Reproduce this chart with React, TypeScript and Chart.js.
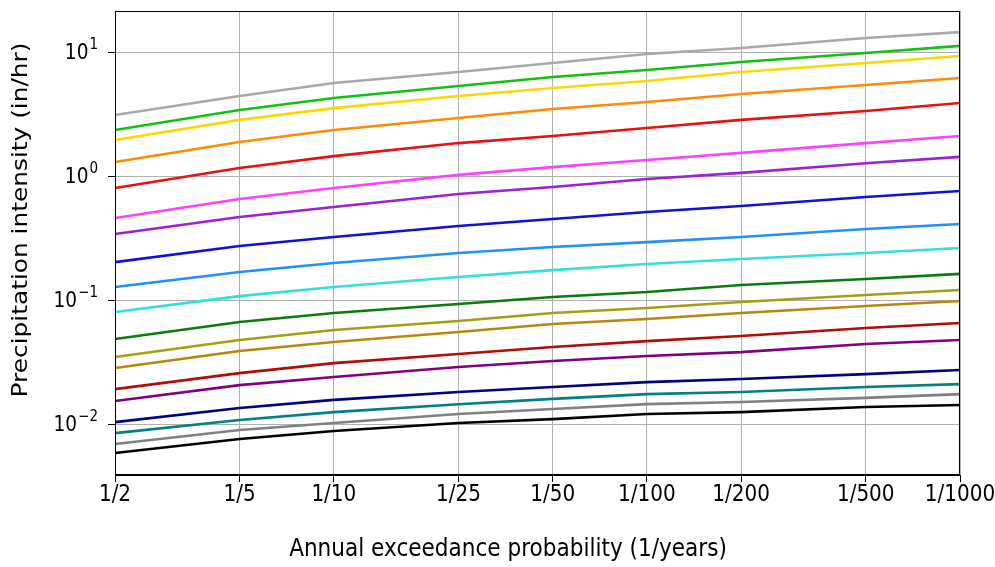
import React, { useEffect, useRef } from "react";
import { Chart, registerables } from "chart.js";

Chart.register(...registerables);

const returnPeriods = [2, 5, 10, 25, 50, 100, 200, 500, 1000];
const xTickValues = [2, 5, 10, 25, 50, 100, 200, 500, 1000];
const xTickLabels = ["1/2", "1/5", "1/10", "1/25", "1/50", "1/100", "1/200", "1/500", "1/1000"];
const yTickValues = [0.01, 0.1, 1, 10];
const yTickExponents = ["\u22122", "\u22121", "0", "1"];
const xTitle = "Annual exceedance probability (1/years)";
const yTitle = "Precipitation intensity (in/hr)";

const s01 = [3.13, 4.46, 5.68, 6.97, 8.23, 9.72, 10.87, 13.1, 14.6];
const s02 = [2.37, 3.44, 4.3, 5.37, 6.34, 7.23, 8.38, 9.91, 11.3];
const s03 = [1.97, 2.86, 3.56, 4.46, 5.17, 5.89, 6.97, 8.23, 9.37];
const s04 = [1.31, 1.9, 2.37, 2.96, 3.5, 3.99, 4.62, 5.47, 6.22];
const s05 = [0.807, 1.17, 1.46, 1.86, 2.12, 2.46, 2.86, 3.37, 3.92];
const s06 = [0.463, 0.659, 0.807, 1.03, 1.19, 1.36, 1.55, 1.86, 2.12];
const s07 = [0.344, 0.471, 0.568, 0.723, 0.822, 0.955, 1.07, 1.28, 1.44];
const s08 = [0.204, 0.275, 0.325, 0.399, 0.454, 0.517, 0.578, 0.684, 0.764];
const s09 = [0.1285, 0.17, 0.201, 0.242, 0.27, 0.296, 0.325, 0.377, 0.414];
const s10 = [0.0807, 0.1086, 0.1285, 0.155, 0.176, 0.197, 0.216, 0.242, 0.265];
const s11 = [0.049, 0.0671, 0.0793, 0.0937, 0.1067, 0.117, 0.1335, 0.149, 0.164];
const s12 = [0.035, 0.048, 0.0578, 0.0684, 0.0793, 0.0871, 0.0973, 0.1107, 0.1216];
const s13 = [0.0286, 0.0392, 0.0463, 0.0557, 0.0646, 0.0709, 0.0793, 0.0904, 0.0991];
const s14 = [0.0193, 0.026, 0.0313, 0.0371, 0.0422, 0.0471, 0.0518, 0.06, 0.0659];
const s15 = [0.0155, 0.0208, 0.0242, 0.0291, 0.0325, 0.0357, 0.0384, 0.0446, 0.048];
const s16 = [0.01047, 0.01358, 0.0158, 0.0183, 0.0201, 0.022, 0.0233, 0.0255, 0.0275];
const s17 = [0.00853, 0.01087, 0.0126, 0.0146, 0.0161, 0.0176, 0.0183, 0.0201, 0.0212];
const s18 = [0.00697, 0.00904, 0.01028, 0.01216, 0.01334, 0.0146, 0.0152, 0.0164, 0.0176];
const s19 = [0.00589, 0.00764, 0.00888, 0.01028, 0.01107, 0.01216, 0.0126, 0.01384, 0.01436];

const seriesList = [s01, s02, s03, s04, s05, s06, s07, s08, s09, s10, s11, s12, s13, s14, s15, s16, s17, s18, s19];
const seriesColors = [
  "#a9a9a9", "#12c012", "#ffd700", "#ff8c00", "#e81010",
  "#ff40ff", "#9b20d9", "#1010dd", "#1e90ff", "#30e0dc",
  "#0a7a0a", "#a0a010", "#b8860b", "#b40a0a", "#800080",
  "#000080", "#008080", "#808080", "#000000",
];

const FONT = "'DejaVu Sans', sans-serif";
const STRETCH = 1.15;

function drawText(ctx: CanvasRenderingContext2D, text: string, x: number, y: number, size: number, align: CanvasTextAlign, rotate = false) {
  ctx.save();
  ctx.translate(x, y);
  if (rotate) {
    ctx.rotate(-Math.PI / 2);
    ctx.scale(STRETCH, 1);
  } else {
    ctx.scale(1, STRETCH);
  }
  ctx.font = `${size}px ${FONT}`;
  ctx.textAlign = align;
  ctx.textBaseline = "middle";
  ctx.fillStyle = "#000";
  ctx.fillText(text, 0, 0);
  ctx.restore();
}

const textPlugin = {
  id: "textPlugin",
  afterDraw(chart: any) {
    const { ctx, chartArea } = chart;
    ctx.save();
    ctx.strokeStyle = "#000";
    ctx.lineWidth = 1;
    ctx.strokeRect(chartArea.left + 0.5, chartArea.top + 0.5, chartArea.right - chartArea.left - 1, chartArea.bottom - chartArea.top - 1);
    ctx.restore();

    const xScale = chart.scales.x;
    const yScale = chart.scales.y;
    // x tick labels
    xTickValues.forEach((v, i) => {
      drawText(ctx, xTickLabels[i], xScale.getPixelForValue(v), chartArea.bottom + 20, 20, "center");
    });
    // y tick labels 10^n
    const rightEdge = chartArea.left - 17;
    yTickValues.forEach((v, i) => {
      const py = yScale.getPixelForValue(v);
      ctx.save();
      ctx.font = `13.5px ${FONT}`;
      const ew = ctx.measureText(yTickExponents[i]).width;
      ctx.restore();
      drawText(ctx, yTickExponents[i], rightEdge - ew, py - 8, 13.5, "left");
      drawText(ctx, "10", rightEdge - ew - 1, py + 1, 18.5, "right");
    });
    // axis titles
    drawText(ctx, xTitle, 508, 550, 21.6, "center");
    drawText(ctx, yTitle, 21, 220, 21.6, "center", true);
  },
};

export default function App() {
  const ref = useRef<HTMLCanvasElement>(null);
  useEffect(() => {
    if (!ref.current) return;
    const chart = new Chart(ref.current, {
      type: "line",
      data: {
        datasets: seriesList.map((s, i) => ({
          data: s.map((v, j) => ({ x: returnPeriods[j], y: v })),
          borderColor: seriesColors[i],
          backgroundColor: seriesColors[i],
          borderWidth: 2.6,
          pointRadius: 0,
          tension: 0,
          fill: false,
        })),
      },
      options: {
        animation: false,
        responsive: false,
        maintainAspectRatio: false,
        layout: { padding: { left: 0, right: 35, top: 11, bottom: 0 } },
        plugins: { legend: { display: false }, tooltip: { enabled: false } },
        scales: {
          x: {
            type: "logarithmic",
            min: 2,
            max: 1000,
            afterBuildTicks: (scale: any) => {
              scale.ticks = xTickValues.map((v) => ({ value: v }));
            },
            afterFit: (scale: any) => {
              scale.height = 92;
              scale.paddingLeft = 0;
              scale.paddingRight = 0;
            },
            ticks: { display: false, autoSkip: false },
            grid: { color: "#b0b0b0", lineWidth: 1, drawTicks: true, tickLength: 7, tickColor: "#000" },
            border: { display: true, color: "#000", width: 1 },
          },
          y: {
            type: "logarithmic",
            min: 0.00392,
            max: 21.6,
            afterBuildTicks: (scale: any) => {
              scale.ticks = yTickValues.map((v) => ({ value: v }));
            },
            afterFit: (scale: any) => {
              scale.width = 115;
              scale.paddingTop = 0;
              scale.paddingBottom = 0;
            },
            ticks: { display: false, autoSkip: false },
            grid: { color: "#b0b0b0", lineWidth: 1, drawTicks: true, tickLength: 7, tickColor: "#000" },
            border: { display: true, color: "#000", width: 1 },
          },
        },
      },
      plugins: [textPlugin],
    });
    return () => chart.destroy();
  }, []);
  return (
    <div style={{ position: "absolute", left: 0, top: 0, width: 995, height: 567, background: "#fff" }}>
      <canvas ref={ref} width={995} height={567} style={{ width: 995, height: 567 }} />
    </div>
  );
}
